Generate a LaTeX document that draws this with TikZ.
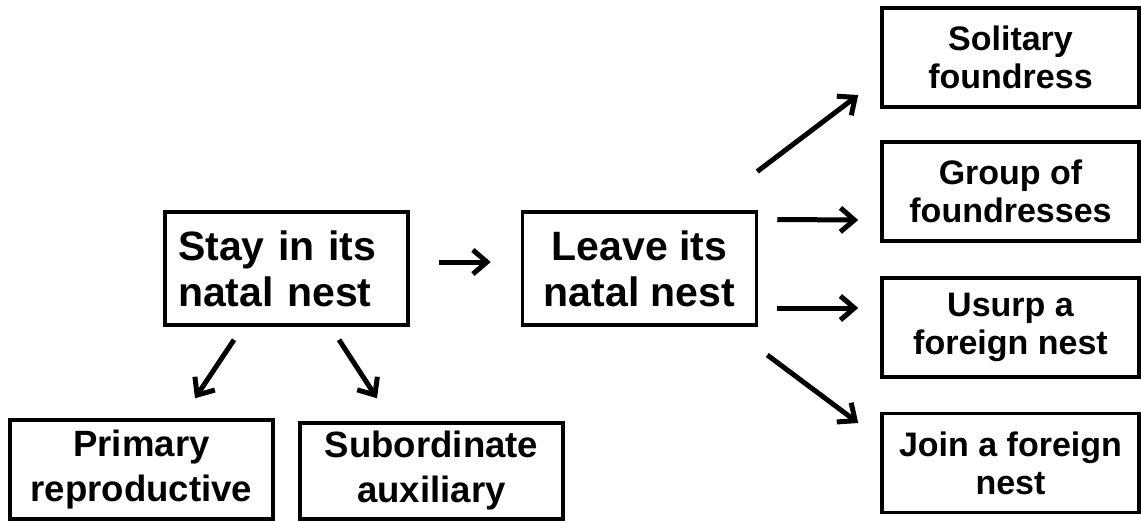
\documentclass[tikz,border=0pt]{standalone}
\usepackage{fontspec}
\setmainfont{Liberation Sans}
\usetikzlibrary{arrows.meta,calc}

\begin{document}
\begin{tikzpicture}[%
		x=0.5pt, y=-0.5pt,
		box/.style={draw, line width=1.75pt, inner sep=0pt, align=center},
		mainbox/.style={box, minimum height=56.5pt, font=\fontsize{20.5}{23}\selectfont\bfseries},
		sidebox/.style={box, minimum width=128.5pt, minimum height=49.5pt, font=\fontsize{17}{19}\selectfont\bfseries},
		lowbox/.style={box, minimum width=131.5pt, font=\fontsize{18.3}{22.5}\selectfont\bfseries},
		arr/.style={line width=2.5pt, -{Straight Barb[length=7pt,width=12pt]}}]
	\useasboundingbox (0,0) rectangle (1141,520);
	\node[mainbox, text width=108.5pt, inner xsep=6.5pt, align=left] (stay) at (286.5,268.5) {Stay in its\\natal nest};
	\node[mainbox, minimum width=117pt] (leave) at (639.5,268.5) {Leave its\\natal nest};
	\node[sidebox] (solitary) at (1010.5,57.5) {Solitary\\foundress};
	\node[sidebox] (group) at (1010.5,191.5) {Group of\\foundresses};
	\node[sidebox] (usurp) at (1010.5,327.5) {Usurp a\\foreign nest};
	\node[sidebox] (join) at (1010.5,463) {Join a foreign\\nest};
	\node[lowbox, minimum height=49.5pt] (primary) at (141.5,469.5) {Primary\\reproductive};
	\node[lowbox, minimum height=48pt] (subordinate) at (431.5,471) {Subordinate\\auxiliary};

	\draw[arr] ($(stay.east)+(29,-6.5)$) -- ($(leave.west)+(-30,-6.5)$);
	\draw[arr] ($(stay.south)+(-52.5,13)$) -- ($(primary.north)+(53.5,-20)$);
	\draw[arr] ($(stay.south)+(52.5,13)$) -- ($(subordinate.north)+(-54.5,-23)$);
	\draw[arr] ($(leave.east)+(-1,-97)$) -- ($(solitary.west)+(-22,37.5)$);
	\draw[arr] ($(leave.east)+(19,-49)$) -- ($(group.west)+(-22,28.5)$);
	\draw[arr] ($(leave.east)+(19,39.5)$) -- ($(usurp.west)+(-22,-19.5)$);
	\draw[arr] ($(leave.east)+(9,86.5)$) -- ($(join.west)+(-22,-40)$);
\end{tikzpicture}
\end{document}
